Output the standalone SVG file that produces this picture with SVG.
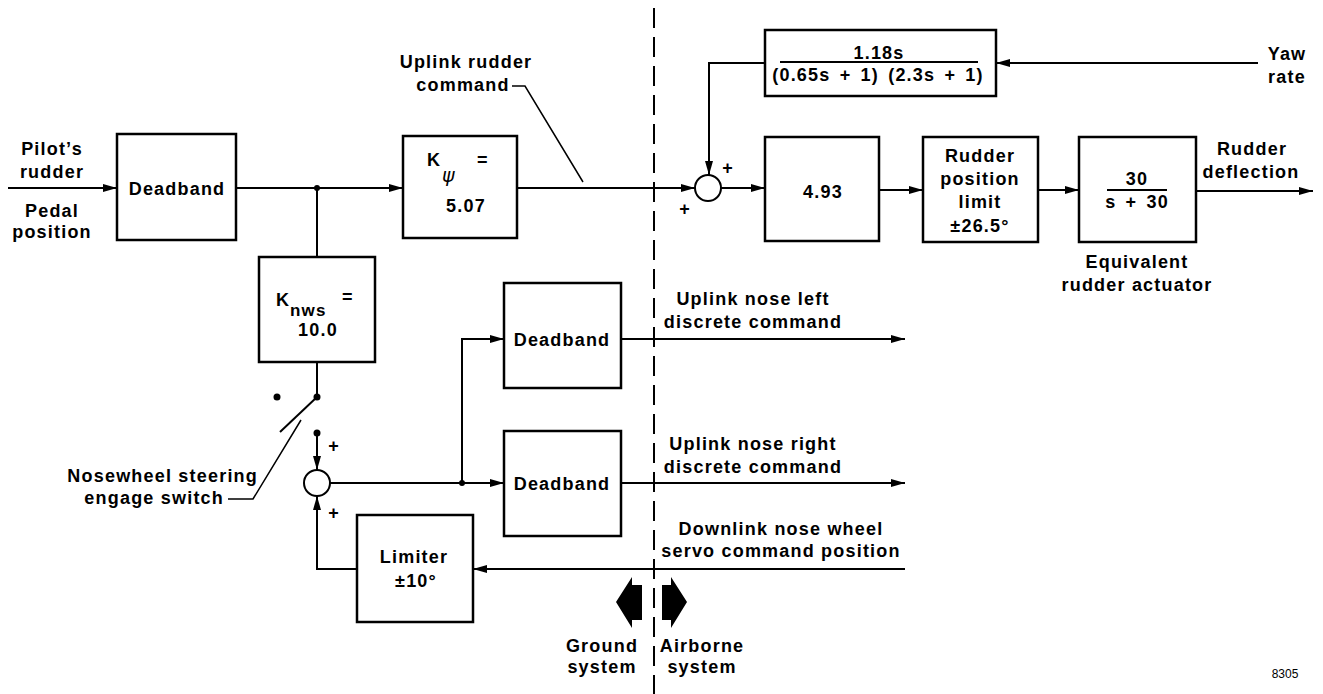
<svg xmlns="http://www.w3.org/2000/svg" width="1323" height="694" viewBox="0 0 1323 694">
<style>
text{font-family:"Liberation Sans",Arial,sans-serif;font-weight:bold;font-size:18px;letter-spacing:1.2px;fill:#000}
.c{text-anchor:middle}
.e{text-anchor:end}
.box{fill:#fff;stroke:#000;stroke-width:2.5}
.ln{fill:none;stroke:#000;stroke-width:2}
.thin{fill:none;stroke:#000;stroke-width:1.5}
.sum{fill:#fff;stroke:#000;stroke-width:2}
.dot{fill:#000}
.dash{fill:none;stroke:#000;stroke-width:2;stroke-dasharray:20 9}
.small{font-weight:normal;font-size:12px;letter-spacing:0}
</style>
<defs>
<marker id="arr" markerUnits="userSpaceOnUse" markerWidth="16" markerHeight="10" refX="14" refY="4" orient="auto">
<path d="M0,0 L14,4 L0,8 z" fill="#000"/>
</marker>
</defs>

<line class="dash" x1="654" y1="8" x2="654" y2="694"/>

<g id="connectors">
<line class="ln" x1="8" y1="188" x2="117" y2="188" marker-end="url(#arr)"/>
<line class="ln" x1="236" y1="188" x2="403" y2="188" marker-end="url(#arr)"/>
<line class="ln" x1="317" y1="188" x2="317" y2="257"/>
<line class="ln" x1="517" y1="188" x2="695" y2="188" marker-end="url(#arr)"/>
<line class="ln" x1="721" y1="188" x2="765" y2="188" marker-end="url(#arr)"/>
<line class="ln" x1="879" y1="190" x2="923" y2="190" marker-end="url(#arr)"/>
<line class="ln" x1="1038" y1="190" x2="1079" y2="190" marker-end="url(#arr)"/>
<line class="ln" x1="1196" y1="191" x2="1313" y2="191" marker-end="url(#arr)"/>
<line class="ln" x1="1258" y1="63" x2="996" y2="63" marker-end="url(#arr)"/>
<path class="ln" d="M765,63 H709 V175" marker-end="url(#arr)"/>
<line class="ln" x1="317" y1="362" x2="317" y2="397"/>
<line class="ln" x1="317" y1="397" x2="280" y2="432"/>
<line class="ln" x1="317" y1="433" x2="317" y2="470" marker-end="url(#arr)"/>
<line class="ln" x1="330" y1="483" x2="504" y2="483" marker-end="url(#arr)"/>
<path class="ln" d="M462,483 V339 H504" marker-end="url(#arr)"/>
<line class="ln" x1="621" y1="339" x2="905" y2="339" marker-end="url(#arr)"/>
<line class="ln" x1="621" y1="483" x2="905" y2="483" marker-end="url(#arr)"/>
<line class="ln" x1="905" y1="569" x2="473" y2="569" marker-end="url(#arr)"/>
<path class="ln" d="M357,569 H317 V496" marker-end="url(#arr)"/>
<path class="thin" d="M512,86 H525 L583,182"/>
<path class="thin" d="M228,499 H253 L301,420"/>
<circle class="dot" cx="317" cy="188" r="3"/>
<circle class="dot" cx="317" cy="397" r="3.5"/>
<circle class="dot" cx="277" cy="397" r="3.5"/>
<circle class="dot" cx="317" cy="433" r="3.5"/>
<circle class="dot" cx="462" cy="483" r="3"/>
</g>

<g id="input-label">
<text class="c" x="52" y="155">Pilot’s</text>
<text class="c" x="52" y="178">rudder</text>
<text class="c" x="52" y="217">Pedal</text>
<text class="c" x="52" y="238">position</text>
</g>

<g id="deadband-main">
<rect class="box" x="117" y="134" width="119" height="106"/>
<text class="c" x="177" y="195">Deadband</text>
</g>

<g id="k-psi">
<rect class="box" x="403" y="136" width="114" height="102"/>
<text x="427" y="166">K</text>
<text x="442" y="182" style="font-family:'DejaVu Sans',sans-serif;font-weight:normal;font-style:italic;font-size:19px;letter-spacing:0">ψ</text>
<text x="477" y="166">=</text>
<text class="c" x="466" y="212">5.07</text>
</g>

<g id="uplink-rudder-label">
<text class="c" x="466" y="68">Uplink rudder</text>
<text class="c" x="463" y="91">command</text>
</g>

<g id="sum1">
<circle class="sum" cx="708" cy="188" r="13"/>
<text class="c" x="728" y="174">+</text>
<text class="c" x="685" y="215">+</text>
</g>

<g id="feedback-filter">
<rect class="box" x="765" y="30" width="231" height="66"/>
<text class="c" x="879" y="59">1.18s</text>
<line class="ln" x1="780" y1="62" x2="978" y2="62"/>
<text class="c" x="878" y="81" style="word-spacing:3px">(0.65s + 1) (2.3s + 1)</text>
</g>

<g id="yaw-rate">
<text class="c" x="1287" y="60">Yaw</text>
<text class="c" x="1287" y="83">rate</text>
</g>

<g id="gain-493">
<rect class="box" x="765" y="137" width="114" height="104"/>
<text class="c" x="823" y="198">4.93</text>
</g>

<g id="rudder-limit">
<rect class="box" x="923" y="137" width="115" height="105"/>
<text class="c" x="980" y="162">Rudder</text>
<text class="c" x="980" y="185">position</text>
<text class="c" x="980" y="208">limit</text>
<text class="c" x="980" y="232">±26.5°</text>
</g>

<g id="actuator">
<rect class="box" x="1079" y="137" width="117" height="105"/>
<text class="c" x="1137" y="185">30</text>
<line class="ln" x1="1107" y1="190" x2="1167" y2="190"/>
<text class="c" x="1137" y="208" style="word-spacing:3px">s + 30</text>
<text class="c" x="1137" y="268">Equivalent</text>
<text class="c" x="1137" y="291">rudder actuator</text>
</g>

<g id="rudder-deflection">
<text class="c" x="1252" y="155">Rudder</text>
<text class="c" x="1251" y="178">deflection</text>
</g>

<g id="k-nws">
<rect class="box" x="259" y="257" width="116" height="105"/>
<text x="276" y="306">K</text>
<text x="290" y="316" style="font-size:17px">nws</text>
<text x="342" y="303">=</text>
<text class="c" x="318" y="336">10.0</text>
</g>

<g id="switch-label">
<text class="e" x="258" y="482">Nosewheel steering</text>
<text class="e" x="224" y="504">engage switch</text>
</g>

<g id="sum2">
<circle class="sum" cx="317" cy="483" r="13"/>
<text class="c" x="334" y="452">+</text>
<text class="c" x="334" y="519">+</text>
</g>

<g id="deadband-left">
<rect class="box" x="504" y="283" width="117" height="105"/>
<text class="c" x="562" y="346">Deadband</text>
</g>

<g id="deadband-right">
<rect class="box" x="504" y="431" width="117" height="105"/>
<text class="c" x="562" y="490">Deadband</text>
</g>

<g id="limiter">
<rect class="box" x="357" y="515" width="116" height="107"/>
<text class="c" x="414" y="563">Limiter</text>
<text class="c" x="416" y="587" style="word-spacing:2px">±10°</text>
</g>

<g id="uplink-left-label">
<text class="c" x="753" y="305">Uplink nose left</text>
<text class="c" x="753" y="328">discrete command</text>
</g>

<g id="uplink-right-label">
<text class="c" x="753" y="450">Uplink nose right</text>
<text class="c" x="753" y="473">discrete command</text>
</g>

<g id="downlink-label">
<text class="c" x="781" y="535">Downlink nose wheel</text>
<text class="c" x="781" y="557">servo command position</text>
</g>

<g id="ground-system">
<polygon class="dot" points="616,602 632,577 632,585 642,585 642,620 632,620 632,628"/>
<text class="c" x="602" y="652">Ground</text>
<text class="c" x="602" y="673">system</text>
</g>

<g id="airborne-system">
<polygon class="dot" points="687,602 671,577 671,585 662,585 662,620 671,620 671,628"/>
<text class="c" x="702" y="652">Airborne</text>
<text class="c" x="702" y="673">system</text>
</g>

<text class="c small" x="1285" y="678">8305</text>
</svg>
